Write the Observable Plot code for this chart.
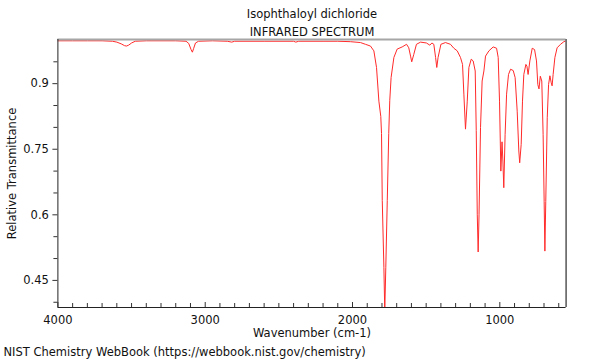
<!DOCTYPE html>
<html><head><meta charset="utf-8">
<script src="https://cdn.jsdelivr.net/npm/d3@7"></script>
<script src="https://cdn.jsdelivr.net/npm/@observablehq/plot@0.6"></script>
<style>body{margin:0;background:#fff}svg{display:block}</style>
</head><body><div id="chart"></div>
<script>
const title = "Isophthaloyl dichloride";
const subtitle = "INFRARED SPECTRUM";
const xLabel = "Wavenumber (cm-1)";
const yLabel = "Relative Transmittance";
const caption = "NIST Chemistry WebBook (https://webbook.nist.gov/chemistry)";

const xDomain = [4000, 550];
const yDomain = [0.388, 1.001];
const xMajorTicks = [4000, 3000, 2000, 1000];
const xMinorTicks = [3900,3800,3700,3600,3500,3400,3300,3200,3100,2900,2800,2700,2600,2500,2400,2300,2200,2100,1900,1800,1700,1600,1500,1400,1300,1200,1100,900,800,700,600];
const yMajorTicks = [0.45, 0.6, 0.75, 0.9];
const yMinorTicks = [0.4, 0.5, 0.55, 0.65, 0.7, 0.8, 0.85, 0.95];

const wavenumber = [4000,3900,3800,3700,3630,3600,3570,3548,3535,3520,3500,3475,3400,3300,3200,3130,3112,3096,3087,3079,3066,3045,2950,2850,2820,2800,2600,2400,2385,2365,2200,2100,2014,1946,1912,1878,1855,1837,1821,1808,1803,1798,1787,1781,1774,1764,1754,1747,1738,1719,1697,1663,1633,1618,1606,1598,1584,1566,1538,1498,1475,1461,1448,1436,1428,1419,1400,1369,1335,1312,1289,1267,1253,1244,1233,1221,1210,1194,1181,1167,1160,1153,1147,1141,1131,1120,1108,1097,1074,1045,1022,1011,1002,993,985,979,973,964,954,941,927,909,896,882,871,865,855,846,837,823,816,808,796,780,764,751,742,734,725,715,706,699,694,688,678,669,660,651,645,638,626,611,588,565,550];
const transmittance = [0.998,0.998,0.998,0.998,0.997,0.995,0.991,0.987,0.986,0.988,0.993,0.997,0.998,0.998,0.998,0.997,0.992,0.978,0.972,0.980,0.993,0.997,0.998,0.997,0.995,0.997,0.997,0.997,0.995,0.997,0.997,0.997,0.996,0.994,0.990,0.986,0.975,0.937,0.860,0.825,0.786,0.633,0.480,0.380,0.480,0.633,0.786,0.862,0.914,0.960,0.979,0.984,0.990,0.982,0.963,0.950,0.967,0.990,0.995,0.993,0.988,0.993,0.990,0.960,0.937,0.960,0.990,0.994,0.990,0.981,0.975,0.960,0.944,0.876,0.796,0.860,0.937,0.956,0.952,0.929,0.793,0.600,0.515,0.600,0.800,0.906,0.929,0.963,0.975,0.984,0.981,0.960,0.860,0.700,0.767,0.723,0.662,0.784,0.876,0.921,0.933,0.930,0.914,0.837,0.746,0.719,0.761,0.860,0.921,0.944,0.940,0.921,0.952,0.981,0.978,0.952,0.898,0.888,0.917,0.906,0.784,0.631,0.517,0.631,0.822,0.898,0.918,0.902,0.895,0.921,0.960,0.982,0.990,0.996,0.998];

const W = 600, H = 360, mL = 57.4, mR = 34.4, mT = 39, mB = 53;
const plotW = W - mL - mR, plotH = H - mT - mB;
const data = wavenumber.map((w, i) => ({w, t: transmittance[i]}));

const chart = Plot.plot({
  width: W, height: H,
  marginLeft: mL, marginRight: mR, marginTop: mT, marginBottom: mB,
  style: {fontFamily: "'DejaVu Sans', sans-serif", fontSize: "11.5px", background: "#fff", color: "#111"},
  x: {domain: xDomain, axis: null},
  y: {domain: yDomain, axis: null},
  marks: [
    Plot.line(data, {x: "w", y: "t", stroke: "#ff2a2a", strokeWidth: 1, clip: true}),
    Plot.ruleY([yDomain[1]], {stroke: "#a6a6a6", strokeWidth: 2}),
    Plot.ruleX([xDomain[1]], {stroke: "#555", strokeWidth: 1.5}),
    Plot.ruleX([xDomain[0]], {stroke: "#222"}),
    Plot.ruleY([yDomain[0]], {stroke: "#222"}),
    Plot.ruleX(xMinorTicks, {stroke: "#333", insetTop: plotH - 4}),
    Plot.ruleX(xMajorTicks, {stroke: "#333", insetTop: plotH - 5}),
    Plot.ruleY(yMinorTicks, {stroke: "#333", insetLeft: -4, insetRight: plotW}),
    Plot.ruleY(yMajorTicks, {stroke: "#333", insetLeft: -5, insetRight: plotW}),
    Plot.text(yMajorTicks, {y: d => d, text: d => String(d), frameAnchor: "left", dx: -9, textAnchor: "end"}),
    Plot.text(xMajorTicks, {x: d => d, text: d => String(d), frameAnchor: "bottom", dy: 16}),
    Plot.text([xLabel], {text: d => d, frameAnchor: "bottom", dy: 29}),
    Plot.text([yLabel], {text: d => d, frameAnchor: "left", rotate: -90, dx: -46, textAnchor: "middle"}),
    Plot.text([title], {text: d => d, frameAnchor: "top", dy: -30}),
    Plot.text([subtitle], {text: d => d, frameAnchor: "top", dy: -12}),
    Plot.text([caption], {text: d => d, frameAnchor: "bottom-left", dx: -54.4, dy: 48, textAnchor: "start"})
  ]
});
document.getElementById("chart").appendChild(chart);
</script>
</body></html>
